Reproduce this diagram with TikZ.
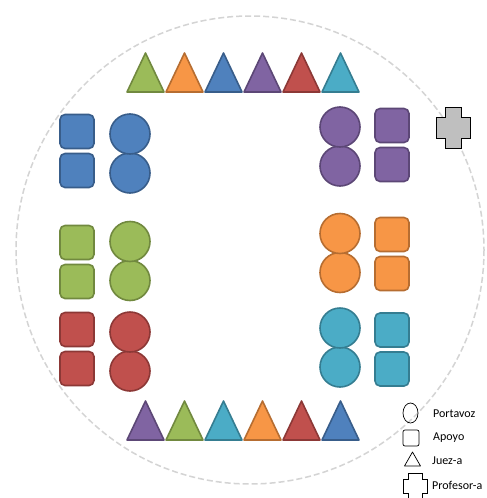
\documentclass[tikz,border=0pt]{standalone}
\usepackage{fontspec}
\setmainfont{Carlito}
\definecolor{cBlue}{HTML}{4F81BD}\definecolor{dBlue}{HTML}{385D8A}
\definecolor{cRed}{HTML}{C0504D}\definecolor{dRed}{HTML}{8C3836}
\definecolor{cGreen}{HTML}{9BBB59}\definecolor{dGreen}{HTML}{71893F}
\definecolor{cPurple}{HTML}{8064A2}\definecolor{dPurple}{HTML}{5C4776}
\definecolor{cTeal}{HTML}{4BACC6}\definecolor{dTeal}{HTML}{357D91}
\definecolor{cOrange}{HTML}{F79646}\definecolor{dOrange}{HTML}{B66D31}
\definecolor{ringgray}{HTML}{D4D4D4}
\definecolor{crossgray}{HTML}{BFBFBF}
\tikzset{
  shp/.style={line width=1.6pt, line join=round},
  sq/.style={shp, rounded corners=5pt},
  legend/.style={draw=black, line width=0.7pt},
  ltext/.style={anchor=west, inner sep=0pt, font=\fontsize{12}{14}\selectfont},
}
\newcommand{\pair}[4]{% x, ymid, fill, draw : squares
  \draw[sq, fill=#3, draw=#4] (#1-17,#2-19.5-17) rectangle (#1+17,#2-19.5+17);
  \draw[sq, fill=#3, draw=#4] (#1-17,#2+19.5-17) rectangle (#1+17,#2+19.5+17);}
\newcommand{\cpair}[4]{% circles
  \draw[shp, fill=#3, draw=#4] (#1,#2+19.5) circle (20);
  \draw[shp, fill=#3, draw=#4] (#1,#2-19.5) circle (20);}
\newcommand{\tri}[4]{% left x, base y, fill, draw
  \draw[shp, fill=#3, draw=#4] (#1+1,#2) -- (#1+19.5,#2-39) -- (#1+38,#2) -- cycle;}
\begin{document}
\begin{tikzpicture}[x=1pt,y=-1pt]
\useasboundingbox (0,0) rectangle (487,498);
\fill[white] (0,0) rectangle (487,498);
% dashed ring
\draw[ringgray, line width=1.5pt, dash pattern=on 6pt off 3pt] (250,250) circle (234);
% top triangles
\tri{126}{92}{cGreen}{dGreen}
\tri{165}{92}{cOrange}{dOrange}
\tri{204}{92}{cBlue}{dBlue}
\tri{243}{92}{cPurple}{dPurple}
\tri{282}{92}{cRed}{dRed}
\tri{321}{92}{cTeal}{dTeal}
% bottom triangles
\tri{126}{440}{cPurple}{dPurple}
\tri{165}{440}{cGreen}{dGreen}
\tri{204}{440}{cTeal}{dTeal}
\tri{243}{440}{cOrange}{dOrange}
\tri{282}{440}{cRed}{dRed}
\tri{321}{440}{cBlue}{dBlue}
% left groups
\pair{77}{151}{cBlue}{dBlue}
\cpair{130}{153.5}{cBlue}{dBlue}
\pair{77}{262}{cGreen}{dGreen}
\cpair{130}{261}{cGreen}{dGreen}
\pair{77}{349}{cRed}{dRed}
\cpair{130}{351.5}{cRed}{dRed}
% right groups
\cpair{340}{146.5}{cPurple}{dPurple}
\pair{392}{145}{cPurple}{dPurple}
\cpair{340}{253}{cOrange}{dOrange}
\pair{392}{254}{cOrange}{dOrange}
\cpair{340}{347.5}{cTeal}{dTeal}
\pair{392}{349.5}{cTeal}{dTeal}
% professor cross
\draw[fill=crossgray, draw=black, line width=1pt, line join=miter]
  (445,107) -- (461,107) -- (461,117) -- (470,117) -- (470,138) -- (461,138)
  -- (461,148) -- (445,148) -- (445,138) -- (436,138) -- (436,117) -- (445,117) -- cycle;
% legend
\draw[legend] (410.5,413) ellipse (7.5 and 10);
\node[ltext] (lp) at (433,414) {Portavoz};
\draw[legend, rounded corners=2pt] (403,430) rectangle (419,446);
\node[ltext] (la) at (433,438) {Apoyo};
\draw[legend, line join=round] (404.5,466) -- (412.5,452) -- (420.5,466) -- cycle;
\node[ltext] (lj) at (432,461) {Juez-a};
\draw[legend] (408,504) -- (408,493) -- (403,493) -- (403,479) -- (408,479) -- (408,473)
  -- (422,473) -- (422,479) -- (427,479) -- (427,493) -- (422,493) -- (422,504);
\node[ltext] (lf) at (432,485) {Profesor-a};
\end{tikzpicture}
\end{document}
